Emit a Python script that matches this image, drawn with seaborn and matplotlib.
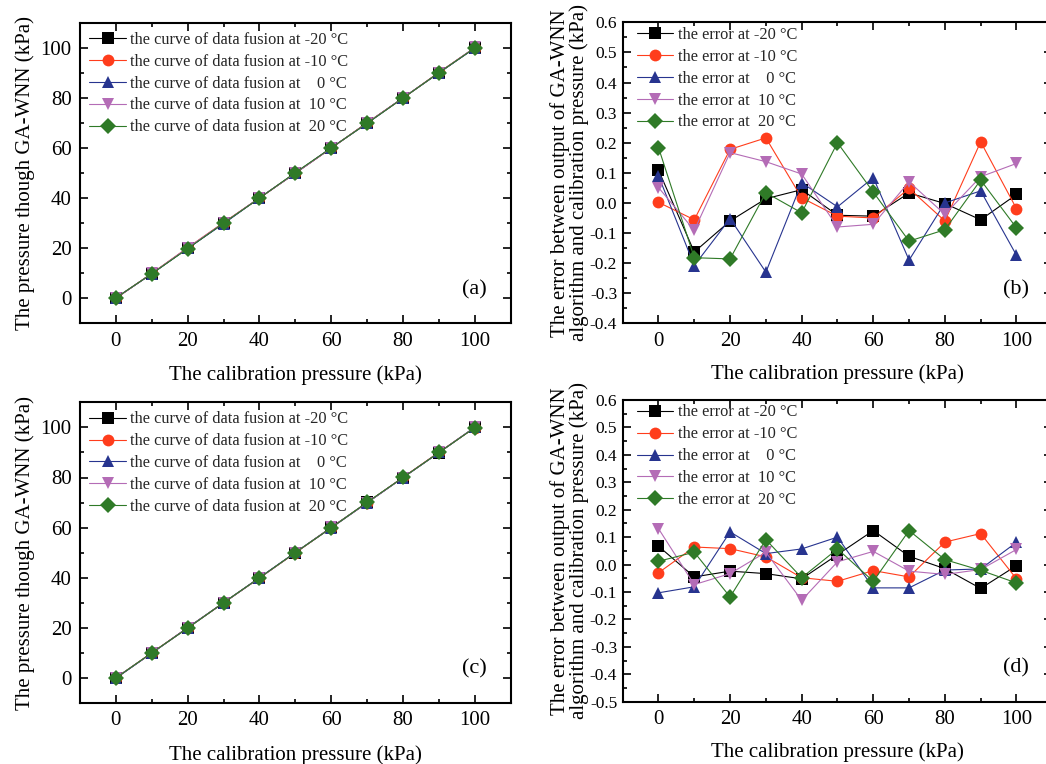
import numpy as np
import pandas as pd
import seaborn as sns
import matplotlib

matplotlib.use("Agg")
from matplotlib import pyplot as plt
from matplotlib.ticker import MultipleLocator

sns.set_theme(style="ticks")
plt.rcParams["font.family"] = ["Liberation Serif", "DejaVu Serif"]
plt.rcParams["axes.unicode_minus"] = False

# calibration pressure (kPa)
pressure = [0, 10, 20, 30, 40, 50, 60, 70, 80, 90, 100]

# (a) output of data fusion, first test
fusion_a_m20 = [0.11, 9.84, 19.94, 30.01, 40.04, 49.96, 59.96, 70.03, 80.00, 89.94, 100.03]
fusion_a_m10 = [0.00, 9.94, 20.18, 30.22, 40.02, 49.96, 59.95, 70.05, 79.94, 90.20, 99.98]
fusion_a_0 = [0.09, 9.79, 19.95, 29.77, 40.07, 49.99, 60.08, 69.81, 80.00, 90.04, 99.83]
fusion_a_10 = [0.05, 9.91, 20.17, 30.14, 40.10, 49.92, 59.93, 70.07, 79.96, 90.09, 100.13]
fusion_a_20 = [0.18, 9.82, 19.81, 30.03, 39.97, 50.20, 60.04, 69.87, 79.91, 90.08, 99.92]

# (b) error, first test
error_b_m20 = [0.109, -0.163, -0.060, 0.014, 0.044, -0.041, -0.044, 0.033, -0.002, -0.056, 0.028]
error_b_m10 = [0.002, -0.056, 0.178, 0.216, 0.017, -0.044, -0.050, 0.048, -0.060, 0.203, -0.019]
error_b_0 = [0.090, -0.208, -0.052, -0.230, 0.067, -0.013, 0.084, -0.190, 0.000, 0.040, -0.174]
error_b_10 = [0.051, -0.091, 0.167, 0.137, 0.096, -0.080, -0.071, 0.070, -0.038, 0.087, 0.131]
error_b_20 = [0.184, -0.182, -0.186, 0.034, -0.033, 0.200, 0.036, -0.127, -0.089, 0.076, -0.083]

# (c) output of data fusion, second test
fusion_c_m20 = [0.07, 9.96, 19.98, 29.97, 39.95, 50.04, 60.12, 70.03, 79.99, 89.91, 100.00]
fusion_c_m10 = [-0.03, 10.06, 20.06, 30.03, 39.95, 49.94, 59.98, 69.96, 80.08, 90.11, 99.95]
fusion_c_0 = [-0.10, 9.92, 20.12, 30.04, 40.06, 50.10, 59.92, 69.92, 79.98, 89.98, 100.08]
fusion_c_10 = [0.13, 9.93, 19.97, 30.05, 39.87, 50.01, 60.05, 69.98, 79.96, 89.98, 100.06]
fusion_c_20 = [0.01, 10.05, 19.88, 30.09, 39.95, 50.06, 59.94, 70.12, 80.02, 89.98, 99.93]

# (d) error, second test
error_d_m20 = [0.067, -0.045, -0.024, -0.033, -0.052, 0.036, 0.124, 0.030, -0.015, -0.087, -0.004]
error_d_m10 = [-0.030, 0.064, 0.058, 0.028, -0.048, -0.061, -0.022, -0.045, 0.082, 0.113, -0.052]
error_d_0 = [-0.103, -0.081, 0.119, 0.040, 0.057, 0.100, -0.085, -0.085, -0.020, -0.016, 0.081]
error_d_10 = [0.131, -0.073, -0.033, 0.045, -0.130, 0.010, 0.048, -0.024, -0.036, -0.018, 0.055]
error_d_20 = [0.012, 0.045, -0.118, 0.091, -0.048, 0.057, -0.061, 0.124, 0.018, -0.021, -0.067]

curve_labels = [
    "the curve of data fusion at -20 °C",
    "the curve of data fusion at -10 °C",
    "the curve of data fusion at    0 °C",
    "the curve of data fusion at  10 °C",
    "the curve of data fusion at  20 °C",
]
error_labels = [
    "the error at -20 °C",
    "the error at -10 °C",
    "the error at    0 °C",
    "the error at  10 °C",
    "the error at  20 °C",
]
fusion_ticks = [0, 20, 40, 60, 80, 100]
error_ticks_b = [-0.4, -0.3, -0.2, -0.1, 0.0, 0.1, 0.2, 0.3, 0.4, 0.5, 0.6]
error_ticks_d = [-0.5, -0.4, -0.3, -0.2, -0.1, 0.0, 0.1, 0.2, 0.3, 0.4, 0.5, 0.6]

COLORS = ["#000000", "#FF3D1C", "#27348F", "#B46CB6", "#2F7A27"]
MARKERS = ["s", "o", "^", "v", "D"]
FONT = 15
XLABEL = "The calibration pressure (kPa)"
YLABEL_FUSION = "The pressure though GA-WNN (kPa)"
YLABEL_ERROR = "The error between output of GA-WNN\nalgorithm and calibration pressure (kPa)"


def draw_panel(ax, series, labels, yticks, yminor, ylim, letter, fmt,
               tick_size, tick_pad, legend_at):
    df = pd.DataFrame({
        "pressure": np.tile(pressure, len(series)),
        "value": np.concatenate(series),
        "label": np.repeat(labels, len(pressure)),
    })
    sns.lineplot(
        data=df, x="pressure", y="value", hue="label", style="label",
        hue_order=labels, style_order=labels,
        palette=dict(zip(labels, COLORS)), markers=dict(zip(labels, MARKERS)),
        dashes=False, linewidth=0.8, markersize=8.5, mew=0, ax=ax,
    )
    handles, names = ax.get_legend_handles_labels()
    ax.legend(handles, names, loc="upper left", bbox_to_anchor=legend_at,
              frameon=False, borderpad=0, borderaxespad=0, labelspacing=0.36,
              handlelength=2.2, handletextpad=0.3, fontsize=11.8)

    ax.set_xlim(-10, 110)
    ax.set_ylim(*ylim)
    ax.set_xticks(fusion_ticks)
    ax.xaxis.set_minor_locator(MultipleLocator(10))
    ax.set_yticks(yticks)
    ax.set_yticklabels([fmt % t for t in yticks])
    ax.yaxis.set_minor_locator(MultipleLocator(yminor))
    ax.tick_params(which="both", direction="in", top=True, right=True,
                   color="black", width=1.2, labelcolor="black")
    ax.tick_params(which="major", length=6)
    ax.tick_params(which="minor", length=3)
    ax.tick_params(axis="x", which="major", labelsize=FONT, pad=6)
    ax.tick_params(axis="y", which="major", labelsize=tick_size, pad=tick_pad)
    for spine in ax.spines.values():
        spine.set_color("black")
        spine.set_linewidth(1.5)
    ax.set_xlabel(XLABEL, fontsize=FONT, color="black")
    ax.text(0.915, 0.112, letter, transform=ax.transAxes, ha="center",
            va="center", fontsize=FONT + 1, color="black")


fig = plt.figure(figsize=(10.46, 7.64), dpi=100)
ax_a = fig.add_axes([0.0765, 0.5768, 0.4118, 0.3935])
ax_b = fig.add_axes([0.5953, 0.5768, 0.4107, 0.3940])
ax_c = fig.add_axes([0.0765, 0.0798, 0.4118, 0.3936])
ax_d = fig.add_axes([0.5953, 0.0815, 0.4107, 0.3950])

draw_panel(ax_a, [fusion_a_m20, fusion_a_m10, fusion_a_0, fusion_a_10, fusion_a_20],
           curve_labels, fusion_ticks, 10, (-10, 110), "(a)", "%d", FONT, 6,
           (0.022, 0.97))
draw_panel(ax_b, [error_b_m20, error_b_m10, error_b_0, error_b_10, error_b_20],
           error_labels, error_ticks_b, 0.05, (-0.4, 0.6), "(b)", "%.1f", 12.5, 4,
           (0.033, 0.985))
draw_panel(ax_c, [fusion_c_m20, fusion_c_m10, fusion_c_0, fusion_c_10, fusion_c_20],
           curve_labels, fusion_ticks, 10, (-10, 110), "(c)", "%d", FONT, 6,
           (0.022, 0.97))
draw_panel(ax_d, [error_d_m20, error_d_m10, error_d_0, error_d_10, error_d_20],
           error_labels, error_ticks_d, 0.05, (-0.5, 0.6), "(d)", "%.1f", 12.5, 4,
           (0.033, 0.985))

for ax in (ax_a, ax_c):
    ax.set_ylabel(YLABEL_FUSION, fontsize=FONT, color="black")
    ax.yaxis.set_label_coords(-0.105, 0.5)
    ax.xaxis.set_label_coords(0.5, -0.14)
for ax in (ax_b, ax_d):
    ax.set_ylabel(YLABEL_ERROR, fontsize=FONT, color="black", linespacing=0.95)
    ax.yaxis.set_label_coords(-0.079, 0.5)
    ax.xaxis.set_label_coords(0.5, -0.135)

fig.savefig("out.png", dpi=100)
